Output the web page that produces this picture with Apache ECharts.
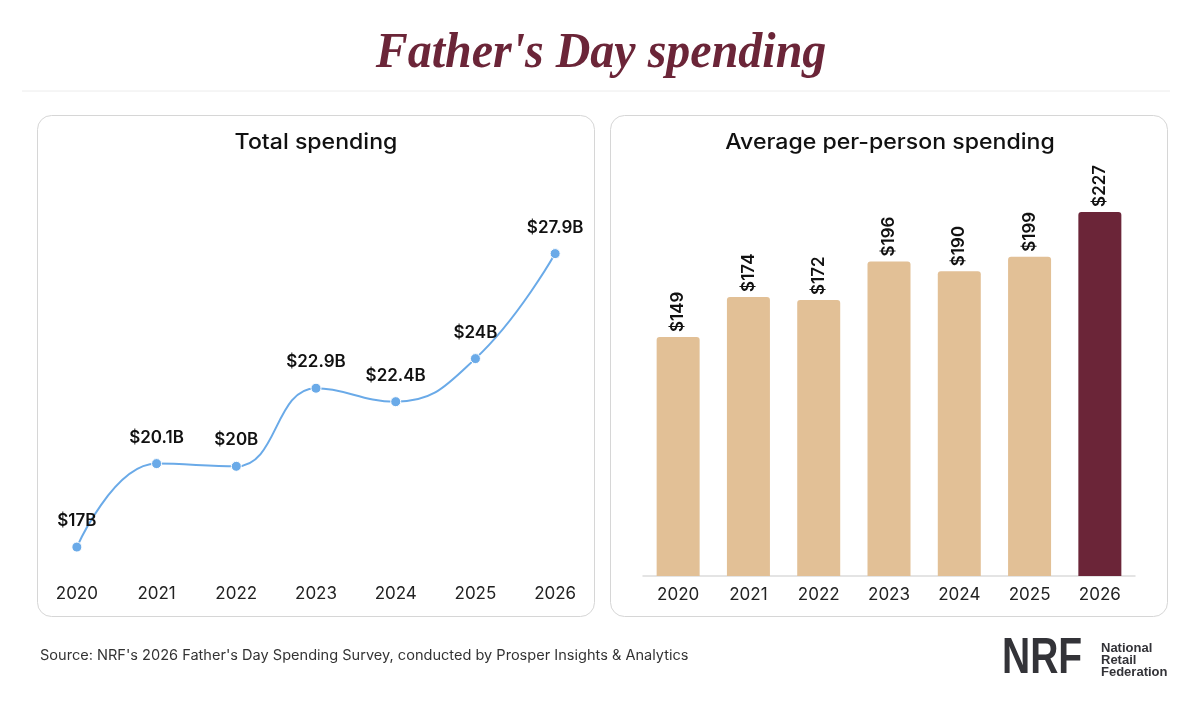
<!DOCTYPE html>
<html>
<head>
<meta charset="utf-8">
<script src="https://cdn.jsdelivr.net/npm/echarts@6/dist/echarts.min.js"></script>
<style>
html,body{margin:0;padding:0;background:#fff;}
#chart{width:1198px;height:701px;}
</style>
</head>
<body>
<div id="chart"></div>
<script>
const years = ['2020', '2021', '2022', '2023', '2024', '2025', '2026'];
const totalSpending = [17, 20.1, 20, 22.9, 22.4, 24, 27.9];
const perPersonSpending = [149, 174, 172, 196, 190, 199, 227];
const highlightYear = '2026';

const mainTitle = "Father's Day spending";
const leftTitle = 'Total spending';
const rightTitle = 'Average per-person spending';
const sourceText = "Source: NRF's 2026 Father's Day Spending Survey, conducted by Prosper Insights & Analytics";

const MAROON = '#6b2538';
const TAN = '#e2c096';
const BLUE = '#6aaae8';
const FONT = 'Inter';

const chart = echarts.init(document.getElementById('chart'), null, {renderer: 'canvas'});

const barData = perPersonSpending.map((v, i) => ({
  value: v,
  itemStyle: {color: years[i] === highlightYear ? MAROON : TAN}
}));

const option = {
  backgroundColor: '#fff',
  animation: false,
  graphic: [
    {type: 'line', shape: {x1: 22, y1: 91, x2: 1170, y2: 91}, style: {stroke: '#ececec', lineWidth: 1}, z: -10},
    {type: 'rect', shape: {x: 37.5, y: 115.5, width: 557, height: 501, r: 14}, style: {fill: '#fff', stroke: '#d6d6d6', lineWidth: 1}, z: -10},
    {type: 'rect', shape: {x: 610.5, y: 115.5, width: 557, height: 501, r: 14}, style: {fill: '#fff', stroke: '#d6d6d6', lineWidth: 1}, z: -10},
    {type: 'text', x: 601, y: 54, scaleX: 0.96, style: {text: mainTitle, font: 'italic bold 50px "Liberation Serif"', fill: MAROON, textAlign: 'center', textVerticalAlign: 'middle'}},
    {type: 'text', x: 316, y: 143, scaleX: 1.1, style: {text: leftTitle, font: '500 21px ' + FONT, fill: '#111', textAlign: 'center', textVerticalAlign: 'middle'}},
    {type: 'text', x: 890, y: 143, scaleX: 1.1, style: {text: rightTitle, font: '500 21px ' + FONT, fill: '#111', textAlign: 'center', textVerticalAlign: 'middle'}},
    {type: 'text', x: 40, y: 656, scaleX: 1.04, style: {text: sourceText, font: '14px ' + FONT, fill: '#333', textAlign: 'left', textVerticalAlign: 'middle'}},
    {type: 'text', x: 1002, y: 659, scaleX: 0.78, style: {text: 'NRF', font: 'bold 50px "Liberation Sans"', fill: '#333338', textAlign: 'left', textVerticalAlign: 'middle'}},
    {type: 'text', x: 1101, y: 648, style: {text: 'National', font: 'bold 13px "Liberation Sans"', fill: '#333338', textAlign: 'left', textVerticalAlign: 'middle'}},
    {type: 'text', x: 1101, y: 660, style: {text: 'Retail', font: 'bold 13px "Liberation Sans"', fill: '#333338', textAlign: 'left', textVerticalAlign: 'middle'}},
    {type: 'text', x: 1101, y: 672, style: {text: 'Federation', font: 'bold 13px "Liberation Sans"', fill: '#333338', textAlign: 'left', textVerticalAlign: 'middle'}}
  ],
  grid: [
    {left: 37, width: 558, top: 224, height: 350, containLabel: false},
    {left: 643, width: 492, top: 175, height: 401, containLabel: false}
  ],
  xAxis: [
    {
      type: 'category', gridIndex: 0, data: years, boundaryGap: true,
      axisLine: {show: false}, axisTick: {show: false},
      axisLabel: {margin: 11, fontFamily: FONT, fontSize: 17, color: '#222'}
    },
    {
      type: 'category', gridIndex: 1, data: years, boundaryGap: true,
      axisLine: {show: true, lineStyle: {color: '#dcdcdc', width: 1.5}}, axisTick: {show: false},
      axisLabel: {margin: 10, fontFamily: FONT, fontSize: 17, color: '#222'}
    }
  ],
  yAxis: [
    {type: 'value', gridIndex: 0, min: 16, max: 29, show: false, splitLine: {show: false}},
    {type: 'value', gridIndex: 1, min: 0, max: 250, show: false, splitLine: {show: false}}
  ],
  series: [
    {
      type: 'line', xAxisIndex: 0, yAxisIndex: 0, data: totalSpending,
      smooth: 0.45,
      symbol: 'circle', symbolSize: 10,
      lineStyle: {color: BLUE, width: 2},
      itemStyle: {color: BLUE, borderColor: '#fff', borderWidth: 1},
      label: {
        show: true, position: 'top', distance: 12,
        formatter: p => '$' + p.value + 'B',
        fontFamily: FONT, fontSize: 17, fontWeight: 600, color: '#111'
      }
    },
    {
      type: 'bar', xAxisIndex: 1, yAxisIndex: 1, data: barData,
      barWidth: 43,
      itemStyle: {borderRadius: [3, 3, 0, 0]},
      label: {
        show: true, position: 'top', rotate: 90, align: 'left', verticalAlign: 'middle', distance: 5,
        formatter: p => '$' + p.value,
        fontFamily: FONT, fontSize: 17, fontWeight: 600, color: '#111'
      }
    }
  ]
};
chart.setOption(option);
</script>
</body>
</html>
